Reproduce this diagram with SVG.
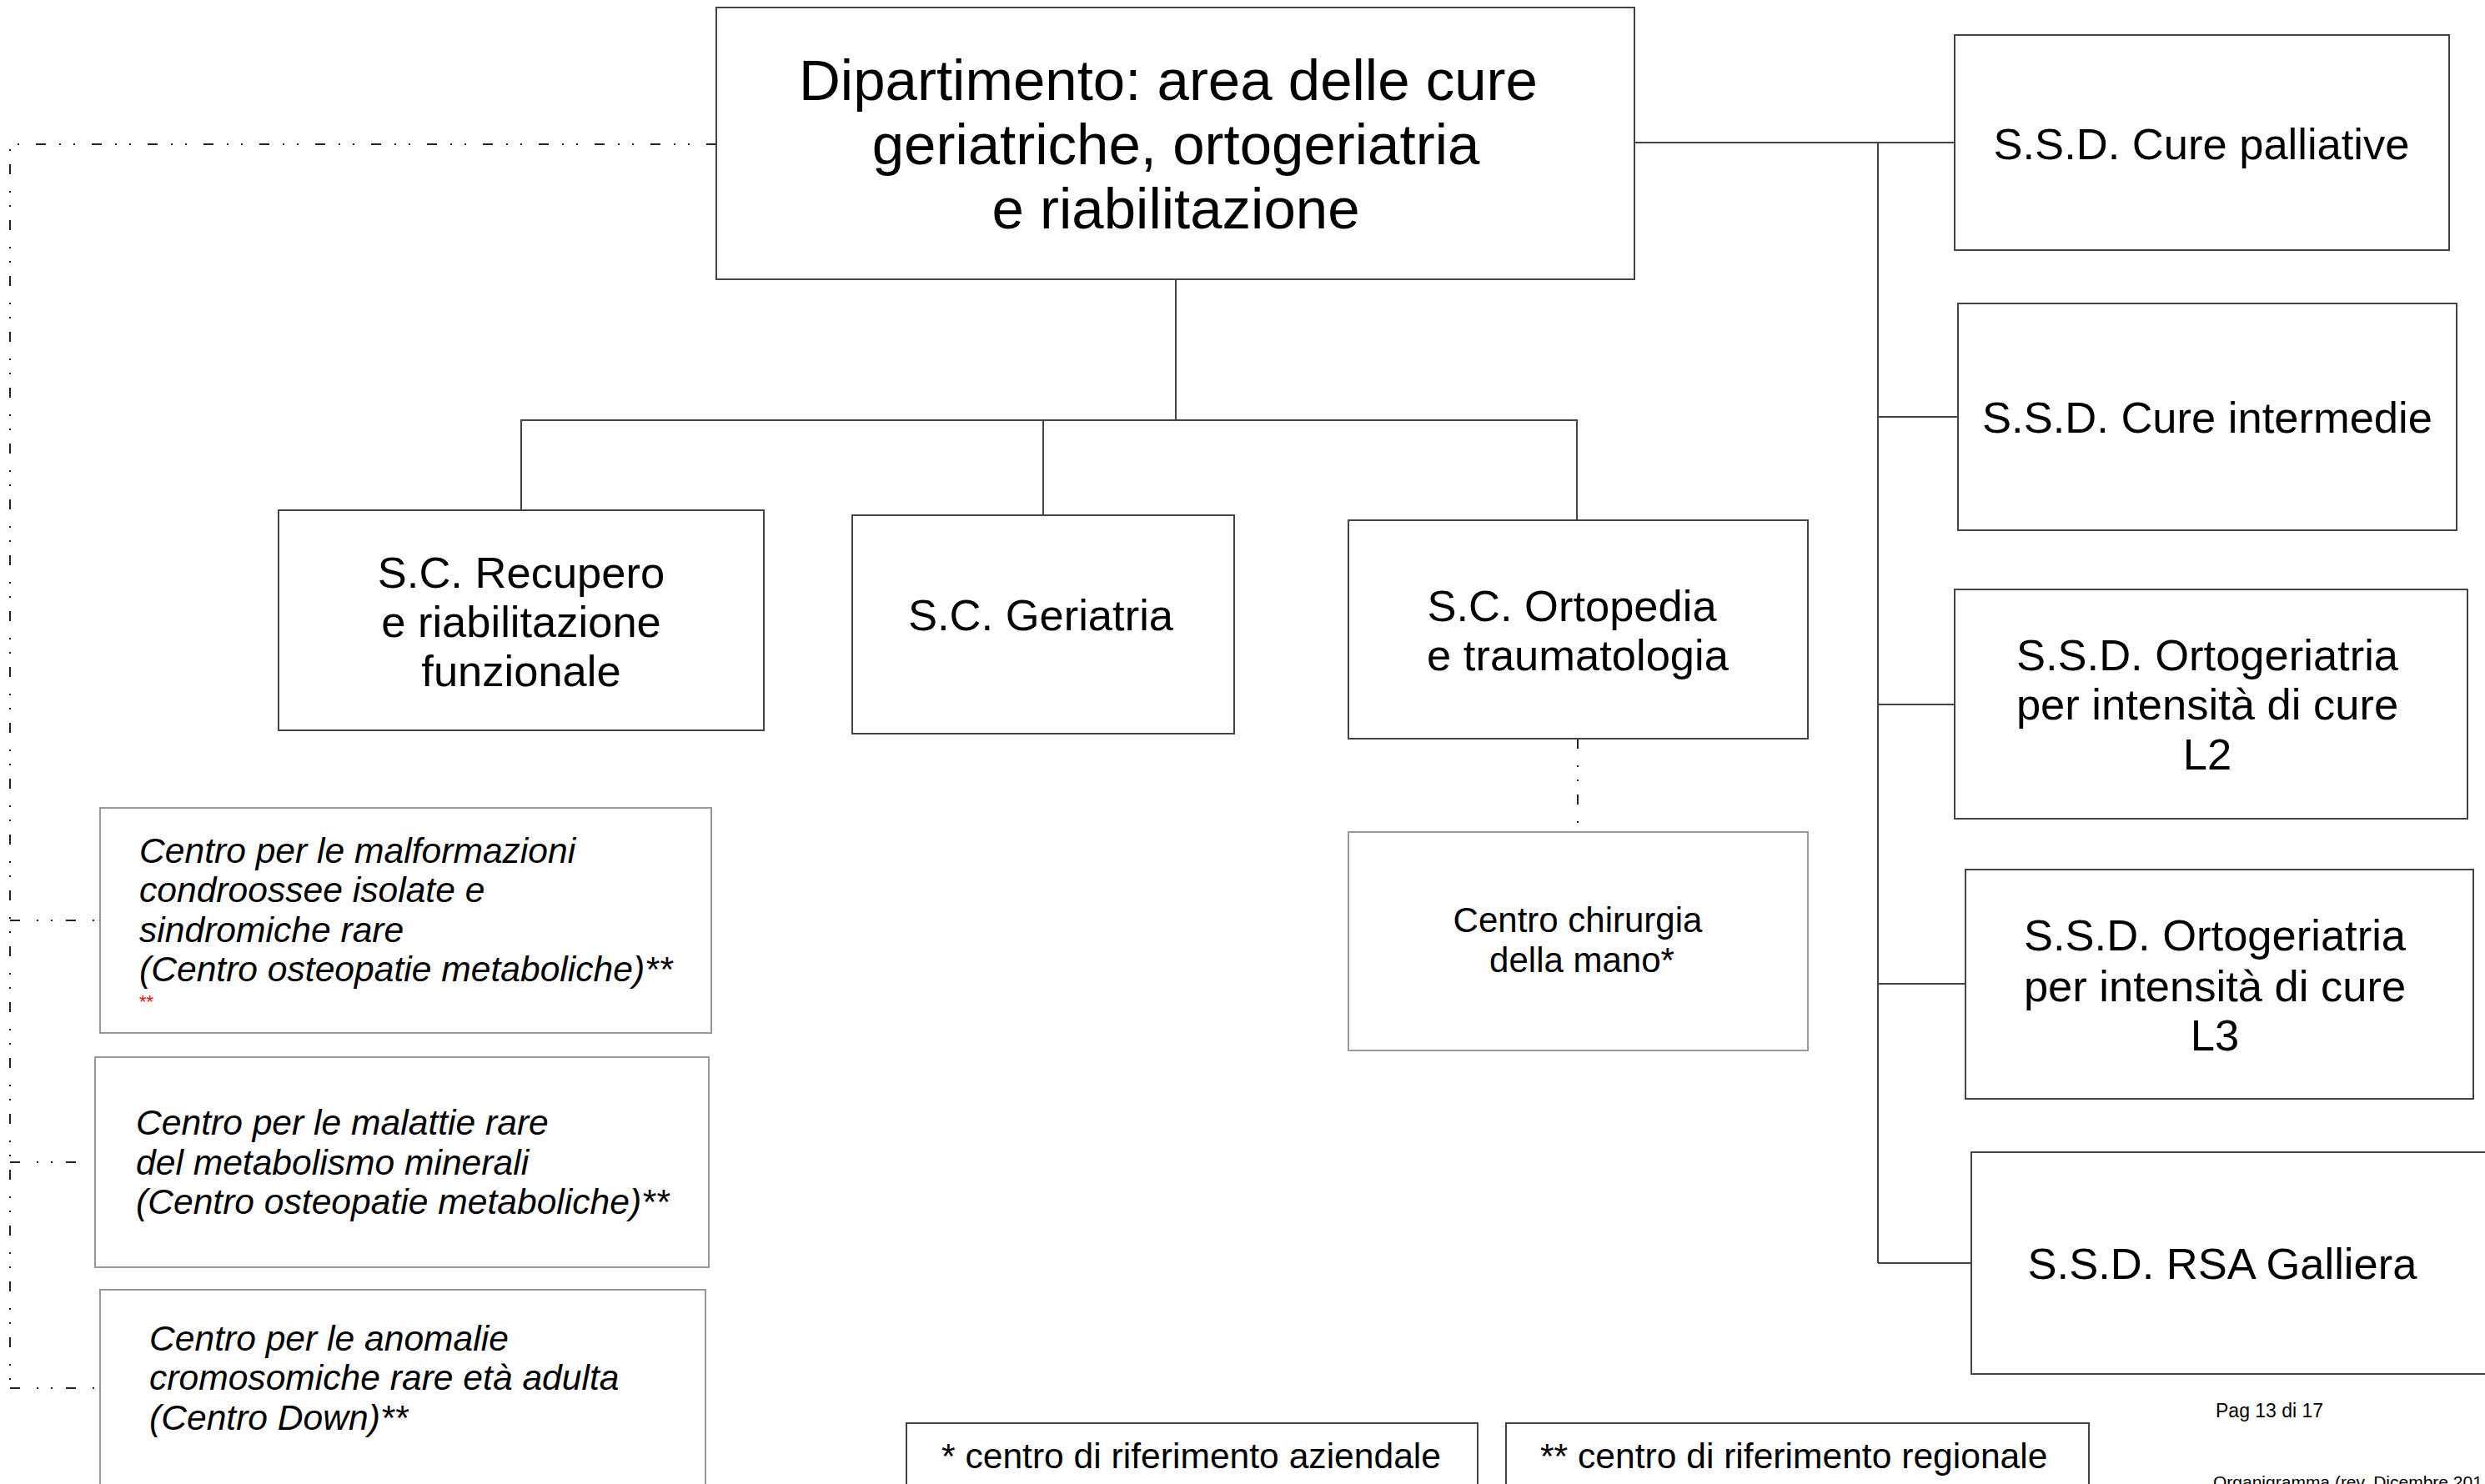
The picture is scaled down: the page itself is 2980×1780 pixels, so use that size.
<svg xmlns="http://www.w3.org/2000/svg" width="2980" height="1780" viewBox="0 0 2980 1780">
<style>
text{font-family:"Liberation Sans",Arial,sans-serif;fill:#000}
.box{fill:#fff;stroke:#444;stroke-width:2}
.lbox{fill:#fff;stroke:#999;stroke-width:2}
.t69{font-size:69px;text-anchor:middle}
.t53{font-size:52.5px;text-anchor:middle}
.t42{font-size:42px;text-anchor:middle}
.it{font-size:42.6px;font-style:italic}
.leg{font-size:42.6px}
.small{font-size:23px}
.solid{stroke:#444;stroke-width:2;fill:none}
.dash{stroke:#222;stroke-width:2;fill:none;stroke-dasharray:12 20 2 15 2 16}
</style>
<rect width="2980" height="1780" fill="#fff"/>
<g id="connectors">
<path class="dash" d="M859,173 H12 V1665"/>
<path class="dash" d="M12,1104 H114"/>
<path class="dash" d="M12,1394 H108"/>
<path class="dash" d="M12,1665 H114"/>
<path class="solid" d="M1410,335 V504"/>
<path class="solid" d="M625,612 V504 H1891 V624"/>
<path class="solid" d="M1251,504 V618"/>
<path class="dash" d="M1892,886 V998"/>
<path class="solid" d="M1960,171 H2344"/>
<path class="solid" d="M2252,171 V1515"/>
<path class="solid" d="M2252,500 H2348"/>
<path class="solid" d="M2252,845 H2344"/>
<path class="solid" d="M2252,1180 H2357"/>
<path class="solid" d="M2252,1515 H2364"/>
</g>
<g id="dipartimento">
<rect class="box" x="859" y="9" width="1101" height="326"/>
<text class="t69" x="1401" y="120">Dipartimento: area delle cure</text>
<text class="t69" x="1410" y="197">geriatriche, ortogeriatria</text>
<text class="t69" x="1410" y="274">e riabilitazione</text>
</g>
<g id="recupero">
<rect class="box" x="334" y="612" width="582" height="264"/>
<text class="t53" x="625" y="705">S.C. Recupero</text>
<text class="t53" x="625" y="764">e riabilitazione</text>
<text class="t53" x="625" y="823">funzionale</text>
</g>
<g id="geriatria">
<rect class="box" x="1022" y="618" width="458" height="262"/>
<text class="t53" x="1248" y="756">S.C. Geriatria</text>
</g>
<g id="ortopedia">
<rect class="box" x="1617" y="624" width="551" height="262"/>
<text class="t53" x="1885" y="745">S.C. Ortopedia</text>
<text class="t53" x="1892" y="804">e traumatologia</text>
</g>
<g id="chirurgia-mano">
<rect class="lbox" x="1617" y="998" width="551" height="262"/>
<text class="t42" x="1892" y="1118">Centro chirurgia</text>
<text class="t42" x="1897" y="1166">della mano*</text>
</g>
<g id="malformazioni">
<rect class="lbox" x="120" y="969" width="733" height="270"/>
<text class="it" x="167" y="1035">Centro per le malformazioni</text>
<text class="it" x="167" y="1082">condroossee isolate e</text>
<text class="it" x="167" y="1130">sindromiche rare</text>
<text class="it" x="167" y="1177">(Centro osteopatie metaboliche)**</text>
<text x="167" y="1209" style="font-size:22px;fill:#f00">**</text>
</g>
<g id="malattie-rare">
<rect class="lbox" x="114" y="1268" width="736" height="252"/>
<text class="it" x="163" y="1361">Centro per le malattie rare</text>
<text class="it" x="163" y="1409">del metabolismo minerali</text>
<text class="it" x="163" y="1456">(Centro osteopatie metaboliche)**</text>
</g>
<g id="anomalie">
<rect class="lbox" x="120" y="1547" width="726" height="260"/>
<text class="it" x="179" y="1620">Centro per le anomalie</text>
<text class="it" x="179" y="1667">cromosomiche rare età adulta</text>
<text class="it" x="179" y="1715">(Centro Down)**</text>
</g>
<g id="cure-palliative">
<rect class="box" x="2344" y="42" width="593" height="258"/>
<text class="t53" x="2640" y="191">S.S.D. Cure palliative</text>
</g>
<g id="cure-intermedie">
<rect class="box" x="2348" y="364" width="598" height="272"/>
<text class="t53" x="2647" y="519">S.S.D. Cure intermedie</text>
</g>
<g id="ortogeriatria-l2">
<rect class="box" x="2344" y="707" width="615" height="275"/>
<text class="t53" x="2647" y="804">S.S.D. Ortogeriatria</text>
<text class="t53" x="2647" y="863">per intensità di cure</text>
<text class="t53" x="2647" y="923">L2</text>
</g>
<g id="ortogeriatria-l3">
<rect class="box" x="2357" y="1043" width="609" height="275"/>
<text class="t53" x="2656" y="1140">S.S.D. Ortogeriatria</text>
<text class="t53" x="2656" y="1201">per intensità di cure</text>
<text class="t53" x="2656" y="1260">L3</text>
</g>
<g id="rsa-galliera">
<rect class="box" x="2364" y="1382" width="640" height="266"/>
<text class="t53" x="2665" y="1534">S.S.D. RSA Galliera</text>
</g>
<g id="legenda-aziendale">
<rect class="box" x="1087" y="1707" width="685" height="120"/>
<text class="leg" x="1129" y="1761">* centro di riferimento aziendale</text>
</g>
<g id="legenda-regionale">
<rect class="box" x="1806" y="1707" width="699" height="120"/>
<text class="leg" x="1847" y="1761">** centro di riferimento regionale</text>
</g>
<g id="footer">
<text class="small" x="2657" y="1700">Pag 13 di 17</text>
<text x="2654" y="1785" style="font-size:21px">Organigramma (rev. Dicembre 201</text>
</g>
</svg>
